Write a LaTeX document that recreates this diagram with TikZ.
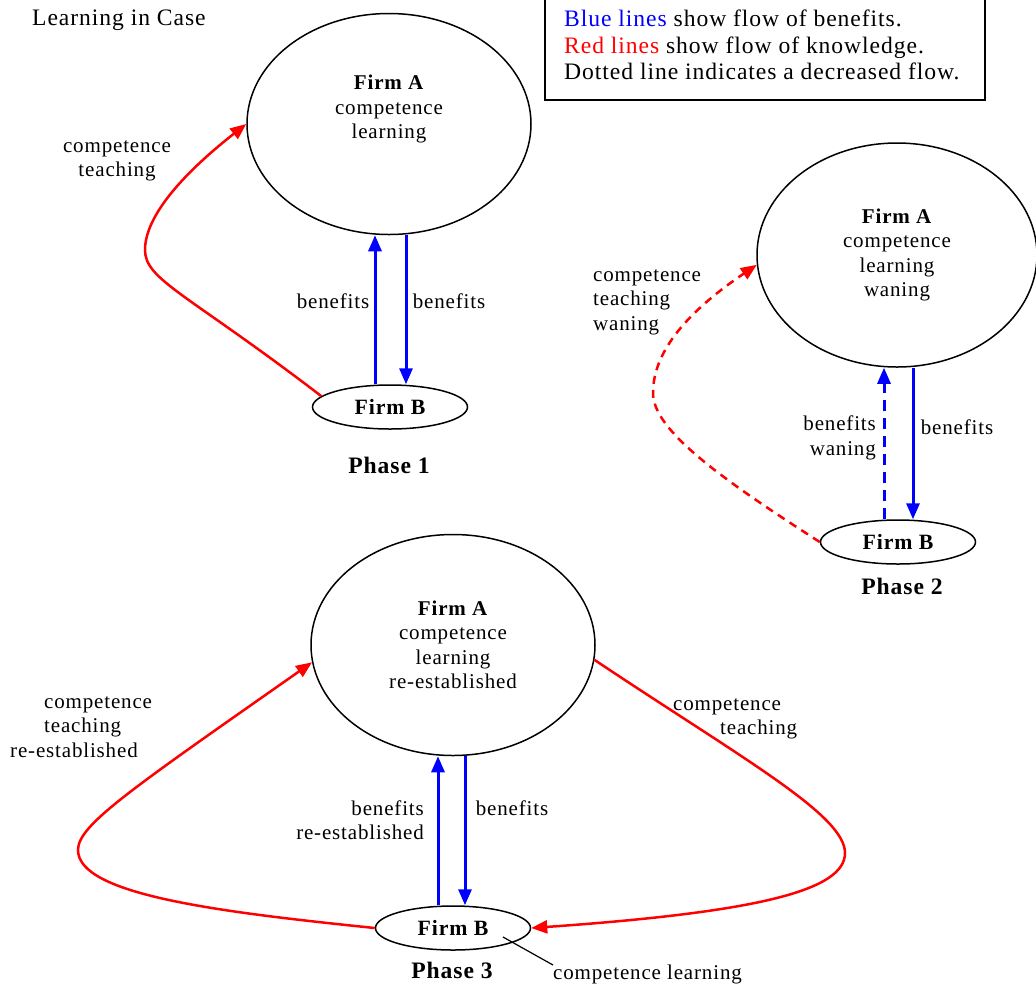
\documentclass[tikz,border=0pt]{standalone}
\usepackage{fontspec}
\setmainfont[LetterSpace=4]{Liberation Serif}
\usepackage{tikz}
\usetikzlibrary{shapes}
\usetikzlibrary{arrows.meta}
\newcommand\dfont{\fontsize{21}{24.5}\selectfont}
\newcommand\bigfont{\fontsize{23.6}{26.5}\selectfont}
\tikzstyle{bigfirm}=[ellipse,draw=black,line width=1.5pt,minimum width=284pt,minimum height=221pt,inner sep=0pt,align=center]
\tikzstyle{smallfirm}=[ellipse,draw=black,line width=1.5pt,minimum width=155pt,minimum height=44pt,inner sep=0pt,font=\fontsize{21.8}{24.5}\selectfont\bfseries]
\tikzstyle{benefit}=[draw=blue,line width=3pt,-{Triangle[length=16pt,width=13pt]}]
\tikzstyle{knowledge}=[draw=red,line width=2.5pt,-{Triangle[length=16pt,width=13pt]}]
\tikzstyle{waning}=[dash pattern=on 11pt off 7pt]
\tikzstyle{lbl}=[inner sep=0pt,align=center]
\tikzstyle{phase}=[inner sep=0pt,font=\bigfont\bfseries]
\tikzset{every picture/.style={
    x=1pt,y=-1pt
  },
  every node/.style={font=\dfont}
}

\begin{document}
\begin{tikzpicture}
      \useasboundingbox (0,0) rectangle (1036,989);
      % legend
      \draw[line width=1.5pt] (545,-5) rectangle (985,100);
      \node[lbl,align=left,anchor=north west,font=\bigfont] at (564,10) (legend)
        {\textcolor{blue}{Blue lines} show flow of benefits.\\
         \textcolor{red}{Red lines} show flow of knowledge.\\
         Dotted line indicates a decreased flow.};
      \node[lbl,anchor=base west,font=\bigfont] at (32,25) (title) {Learning in Case};
      % phase 1
      \node[bigfirm] at (389,124) (a1) {\textbf{Firm A}\\competence\\learning\\[10pt]};
      \node[smallfirm] at (390,407) (b1) {Firm B};
      \node[phase] at (389,465) (p1) {Phase 1};
      \draw[benefit] ([xshift=-15pt]b1.north) -- ([xshift=-14pt]a1.south);
      \draw[benefit] ([xshift=17pt]a1.south) -- ([xshift=16pt]b1.north);
      \node[lbl] at (333,301) (ben1l) {benefits};
      \node[lbl] at (449,301) (ben1r) {benefits};
      \draw[knowledge] (b1.171) .. controls (188,294) and (145,280) .. (145,250)
        .. controls (145,220) and (175,180) .. (a1.west);
      \node[lbl] at (117,161) (teach1) {competence\\teaching};
      % phase 2
      \node[bigfirm,minimum width=280pt,minimum height=224pt] at (897,255) (a2) {\textbf{Firm A}\\competence\\learning\\waning};
      \node[smallfirm] at (898,542) (b2) {Firm B};
      \node[phase] at (902,586) (p2) {Phase 2};
      \draw[benefit,waning] ([xshift=-14pt]b2.north) -- ([xshift=-13pt]a2.south);
      \draw[benefit] ([xshift=16pt]a2.south) -- ([xshift=15pt]b2.north);
      \node[lbl,align=right,anchor=east] at (876,438) (ben2l) {benefits\\waning};
      \node[lbl] at (957,427) (ben2r) {benefits};
      \draw[knowledge,dash pattern=on 8pt off 6pt] (b2.west) .. controls (720,478) and (653,430) .. (653,393)
        .. controls (653,350) and (690,310) .. (a2.184);
      \node[lbl,align=left,anchor=west] at (593,302) (teach2) {competence\\teaching\\waning};
      % phase 3
      \node[bigfirm] at (453,645) (a3) {\textbf{Firm A}\\competence\\learning\\re-established};
      \node[smallfirm] at (453,928) (b3) {Firm B};
      \node[phase] at (452,970) (p3) {Phase 3};
      \draw[benefit] ([xshift=-15pt]b3.north) -- ([xshift=-15pt]a3.south);
      \draw[benefit] ([xshift=12pt]a3.south) -- ([xshift=12pt]b3.north);
      \node[lbl,align=right,anchor=east] at (424,820) (ben3l) {benefits\\re-established};
      \node[lbl] at (512,808) (ben3r) {benefits};
      \draw[knowledge] (b3.west) .. controls (220,912) and (78,895) .. (78,850)
        .. controls (78,825) and (130,790) .. (a3.187);
      \draw[knowledge] (a3.-6) .. controls (743,759) and (845,815) .. (845,853)
        .. controls (845,890) and (760,912) .. (b3.east);
      \node[lbl,align=left,anchor=west] at (10,727) (teach3l) {\hspace*{34pt}competence\\\hspace*{34pt}teaching\\re-established};
      \node[lbl,align=left,anchor=west] at (673,719) (teach3r) {competence\\\hspace*{47pt}teaching};
      \coordinate (cl0) at (503,937);
      \node[lbl,anchor=north west] at (553,965) (clearn) {competence learning};
      \draw[line width=1.2pt] (cl0) -- (clearn.north west);
    \end{tikzpicture}
\end{document}
